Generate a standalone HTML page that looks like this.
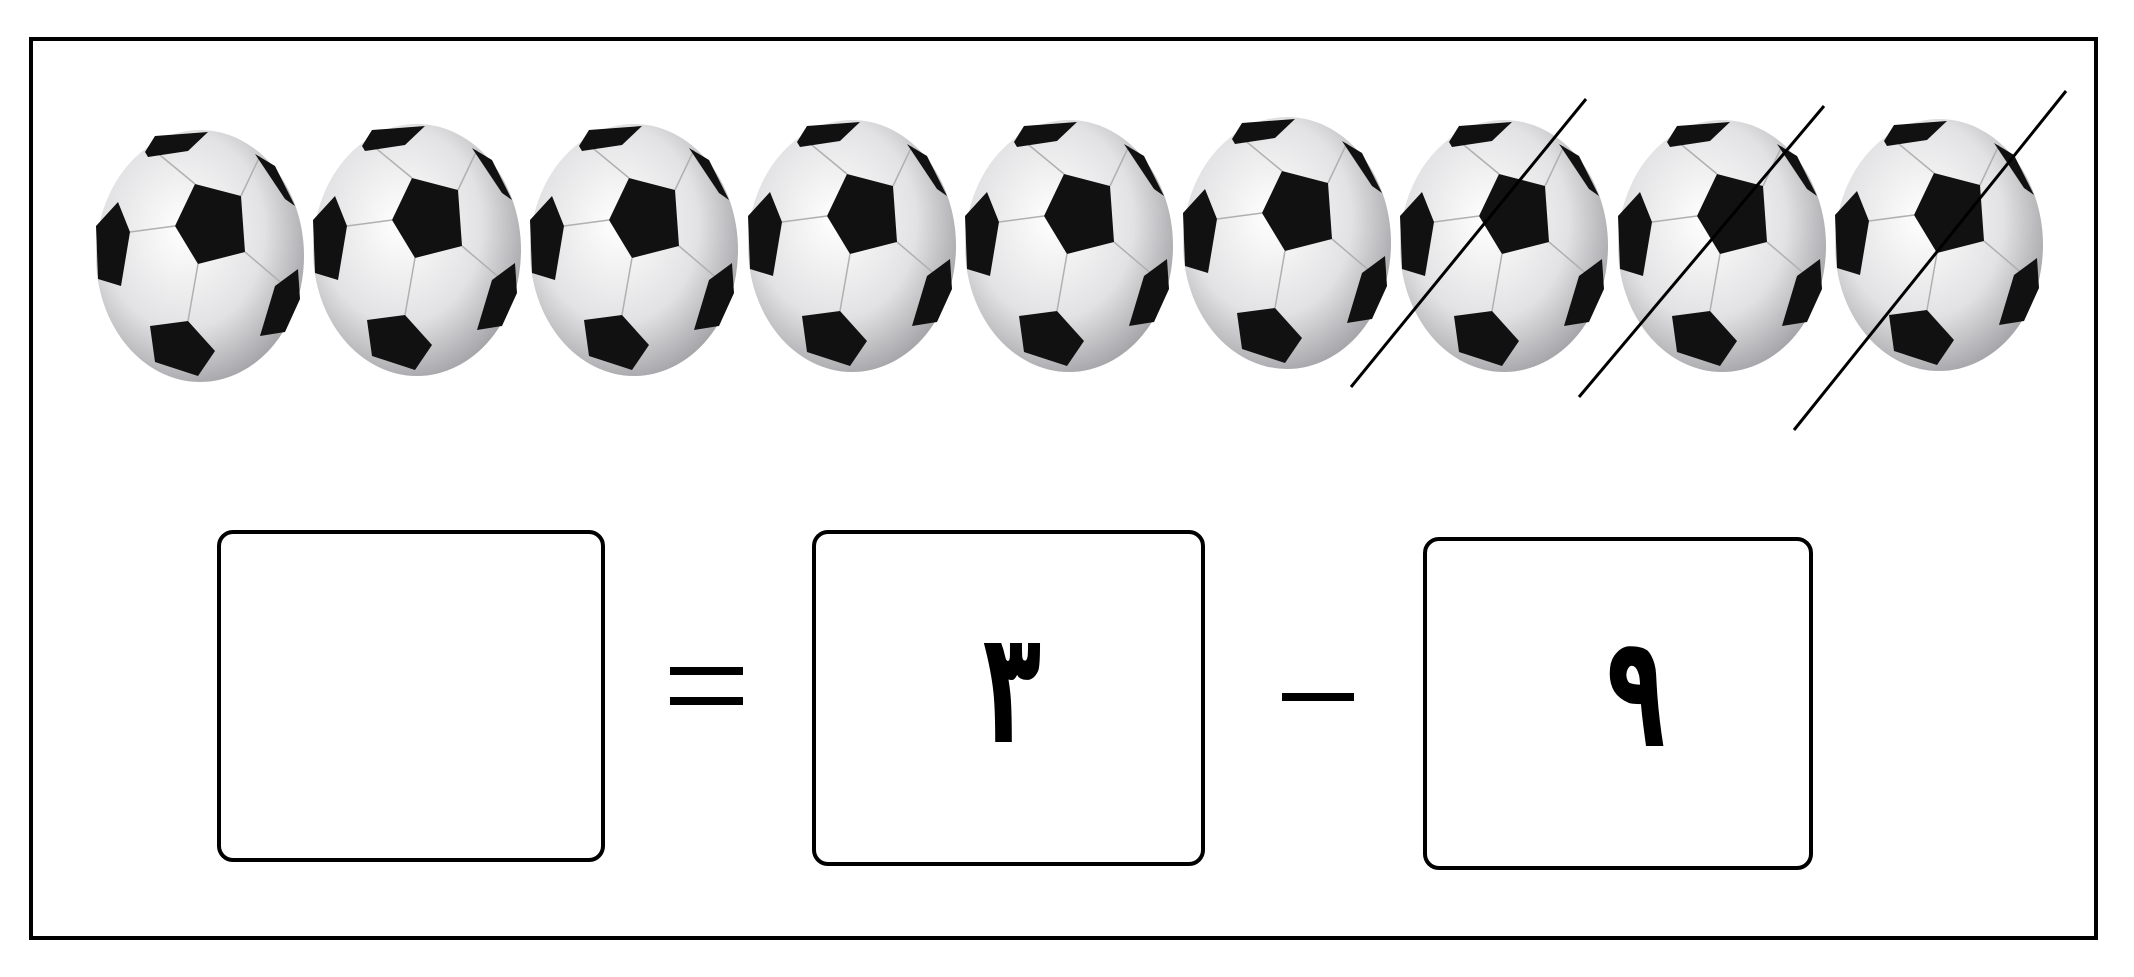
<!DOCTYPE html>
<html><head><meta charset="utf-8"><style>
html,body{margin:0;padding:0;background:#fff;width:2134px;height:977px;overflow:hidden}
svg{display:block}
</style></head><body>
<svg width="2134" height="977" viewBox="0 0 2134 977" xmlns="http://www.w3.org/2000/svg">
<defs>
<radialGradient id="bg" cx="0.42" cy="0.4" r="0.65">
<stop offset="0" stop-color="#ffffff"/><stop offset="0.6" stop-color="#e2e2e4"/><stop offset="1" stop-color="#a0a0a4"/>
</radialGradient>
<g id="ball">
<ellipse cx="0" cy="0" rx="104" ry="126" fill="url(#bg)"/>
<g stroke="#b0b0b0" stroke-width="1.5" fill="none">
<path d="M-25,-30 L-70,-24 M45,-4 L85,30 M-2,8 L-12,65 M-5,-72 L-45,-105 M41,-60 L60,-100"/>
</g>
<g fill="#111">
<polygon points="-25,-30 -5,-72 41,-60 45,-4 -2,8"/>
<polygon points="-55,-104 -45,-120 8,-124 -12,-105 -52,-99"/>
<polygon points="-104,-30 -82,-54 -70,-24 -79,30 -102,23"/>
<polygon points="55,-102 75,-90 95,-50 85,-57"/>
<polygon points="75,30 98,13 100,43 85,76 60,80"/>
<polygon points="-50,70 -12,65 15,95 -2,120 -45,106"/>
</g>
</g>
</defs>
<rect x="31" y="39" width="2065" height="899" fill="none" stroke="#000" stroke-width="4"/>
<g>
<use href="#ball" x="200" y="256"/>
<use href="#ball" x="417" y="250"/>
<use href="#ball" x="634" y="250"/>
<use href="#ball" x="852" y="246"/>
<use href="#ball" x="1069" y="246"/>
<use href="#ball" x="1287" y="243"/>
<use href="#ball" x="1504" y="246"/>
<use href="#ball" x="1722" y="246"/>
<use href="#ball" x="1939" y="245"/>
</g>
<g stroke="#000" stroke-width="3">
<line x1="1586" y1="99" x2="1351" y2="387"/>
<line x1="1824" y1="106" x2="1579" y2="397"/>
<line x1="2066" y1="91" x2="1794" y2="430"/>
</g>
<rect x="219" y="532" width="384" height="328" rx="14" fill="#fff" stroke="#000" stroke-width="4"/>
<rect x="670" y="667" width="73" height="8" fill="#000"/>
<rect x="670" y="697" width="73" height="8" fill="#000"/>
<rect x="814" y="532" width="389" height="332" rx="14" fill="#fff" stroke="#000" stroke-width="4"/>
<text transform="translate(1012,742) scale(0.8,1.3)" x="0" y="0" font-family="'DejaVu Sans','Noto Sans CJK SC',sans-serif" font-weight="bold" font-size="120" text-anchor="middle">٣</text>
<rect x="1282" y="693" width="72" height="8" fill="#000"/>
<rect x="1425" y="539" width="386" height="329" rx="14" fill="#fff" stroke="#000" stroke-width="4"/>
<text transform="translate(1636,746) scale(0.8,1.3)" x="0" y="0" font-family="'DejaVu Sans','Noto Sans CJK SC',sans-serif" font-weight="bold" font-size="120" text-anchor="middle">٩</text>
</svg>
</body></html>
